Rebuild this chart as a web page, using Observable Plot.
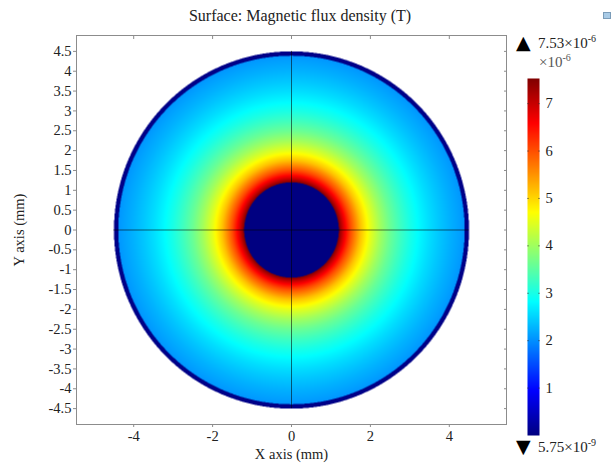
<!DOCTYPE html>
<html><head><meta charset="utf-8">
<script src="https://cdn.jsdelivr.net/npm/d3@7"></script>
<script src="https://cdn.jsdelivr.net/npm/@observablehq/plot@0.6"></script>
<style>
body{margin:0;background:#fff;}
#wrap{position:relative;width:612px;height:468px;overflow:hidden;font-family:"Liberation Serif","Times New Roman",serif;color:#222;}
#main,#cbar,#notes{position:absolute;}
#icon{position:absolute;left:603px;top:12px;width:8px;height:7px;background:#a9cbe6;border:1px solid #7b9cb8;box-sizing:border-box;}
</style></head><body>
<div id="wrap">
  <div id="main" style="left:0;top:0"></div>
  <div id="cbar" style="left:520px;top:70px"></div>
  <svg id="notes" width="612" height="468" style="left:0;top:0;pointer-events:none"></svg>
  <div id="icon"></div>
</div>
<script>
// ---- data (B in units of 1e-6 T, distances in mm) ----
const chartTitle = "Surface: Magnetic flux density (T)";
const xLabel = "X axis (mm)";
const yLabel = "Y axis (mm)";
const xTicks = [-4, -2, 0, 2, 4];
const yTicks = [-4.5, -4, -3.5, -3, -2.5, -2, -1.5, -1, -0.5, 0, 0.5, 1, 1.5, 2, 2.5, 3, 3.5, 4, 4.5];
const colorbarTicks = [1, 2, 3, 4, 5, 6, 7];
const maxLabel = "7.53";
const maxExp = "-6";
const minLabel = "5.75";
const minExp = "-9";
const unitExp = "-6";
const maxValue = 7.53;
const minValue = 0.00575;
// radial profile (annular region between conductor and outer rim)
const profileRadius = [1.2, 1.3, 1.4, 1.5, 1.75, 2.0, 2.25, 2.5, 2.75, 3.0, 3.25, 3.5, 3.75, 4.0, 4.25, 4.4];
const profileFlux   = [7.53, 6.95, 6.45, 6.02, 5.16, 4.52, 4.02, 3.61, 3.29, 3.01, 2.78, 2.58, 2.41, 2.26, 2.13, 2.05];
const innerRadius = 1.2;   // dark inner disk
const rimInner = 4.39;     // dark outer rim
const outerRadius = 4.5;
const rimValue = 0.05;
const xDomain = [-5.45, 5.45];
const yDomain = [-4.9, 4.9];

// jet colour map
const jetStops = [0, 0.125, 0.375, 0.625, 0.875, 1];
const jetColors = ["#000080", "#0000ff", "#00ffff", "#ffff00", "#ff0000", "#800000"];
const colorScale = {type: "linear", domain: jetStops.map(t => t * maxValue), range: jetColors, interpolate: "rgb", clamp: true};

const bis = d3.bisector(d => d).right;
function flux(r) {
  if (r > outerRadius) return NaN;
  if (r >= rimInner) return rimValue;
  if (r < innerRadius) return minValue;
  const i = Math.min(Math.max(bis(profileRadius, r), 1), profileRadius.length - 1);
  const r0 = profileRadius[i - 1], r1 = profileRadius[i];
  const t = (r - r0) / (r1 - r0);
  return profileFlux[i - 1] + t * (profileFlux[i] - profileFlux[i - 1]);
}

const fmt = d => String(d);
const frameGray = "#8c8c8c";
const textColor = "#222";

const main = Plot.plot({
  width: 612, height: 468,
  marginLeft: 76, marginRight: 106, marginTop: 35, marginBottom: 44,
  x: {domain: xDomain},
  y: {domain: yDomain},
  color: colorScale,
  style: {fontFamily: '"Liberation Serif", serif', fontSize: "14px", color: textColor, background: "transparent", overflow: "visible"},
  marks: [
    Plot.raster({fill: (x, y) => flux(Math.hypot(x, y)), x1: xDomain[0], x2: xDomain[1], y1: yDomain[0], y2: yDomain[1], pixelSize: 0.5}),
    Plot.ruleX([0], {y1: -outerRadius, y2: outerRadius, stroke: "#000", strokeOpacity: 0.55}),
    Plot.ruleY([0], {x1: -outerRadius, x2: outerRadius, stroke: "#000", strokeOpacity: 0.55}),
    Plot.frame({stroke: frameGray}),
    Plot.axisX({ticks: xTicks, tickSize: 3, tickPadding: 3, tickFormat: fmt, stroke: frameGray, fill: textColor,
      label: xLabel, labelAnchor: "center", labelArrow: "none", labelOffset: 34, fontSize: 14.5}),
    Plot.axisX({anchor: "top", ticks: xTicks, tickSize: -3, tickFormat: () => "", stroke: frameGray, label: null}),
    Plot.axisY({ticks: yTicks, tickSize: 3, tickPadding: 2, tickFormat: fmt, stroke: frameGray, fill: textColor,
      label: yLabel, labelAnchor: "center", labelArrow: "none", labelOffset: 63, fontSize: 14.5}),
    Plot.axisY({anchor: "right", ticks: yTicks, tickSize: -3, tickFormat: () => "", stroke: frameGray, label: null})
  ]
});
document.getElementById("main").appendChild(main);

const cbar = Plot.plot({
  width: 80, height: 375,
  marginLeft: 7, marginRight: 61, marginTop: 8, marginBottom: 10,
  x: {domain: [0, 1], axis: null},
  y: {domain: [0, maxValue]},
  color: colorScale,
  style: {fontFamily: '"Liberation Serif", serif', fontSize: "14px", color: textColor, background: "transparent", overflow: "visible"},
  marks: [
    Plot.raster({fill: (x, y) => y, x1: 0, x2: 1, y1: 0, y2: maxValue, pixelSize: 0.5}),
    Plot.axisY({anchor: "right", ticks: colorbarTicks, tickSize: -2, tickPadding: 8, tickFormat: fmt, stroke: "#333", strokeOpacity: 0.5, fill: textColor, label: null, fontSize: 14.5}),
    Plot.axisY({anchor: "left", ticks: colorbarTicks, tickSize: -2, tickFormat: () => "", stroke: "#333", strokeOpacity: 0.5, label: null})
  ]
});
document.getElementById("cbar").appendChild(cbar);

// annotations (title, colour-bar range labels)
const notes = d3.select("#notes").style("font-family", '"Liberation Serif", serif').style("fill", textColor);
notes.append("text").attr("x", 300).attr("y", 21).attr("text-anchor", "middle").attr("font-size", 16).text(chartTitle);
function sciLabel(x, y, tri, mant, exp) {
  const g = notes.append("g");
  g.append("text").attr("x", x).attr("y", y + 1).attr("font-size", 19).attr("font-family", "DejaVu Sans").style("fill", "#000").text(tri);
  const t = g.append("text").attr("x", x + 22).attr("y", y).attr("font-size", 15);
  t.append("tspan").text(mant + "\u00d710");
  t.append("tspan").attr("dy", -6).attr("font-size", 10).text(exp);
}
sciLabel(516, 48, "\u25b2", maxLabel, maxExp);
const u = notes.append("text").attr("x", 539).attr("y", 67).attr("font-size", 15).style("fill", "#555");
u.append("tspan").text("\u00d710");
u.append("tspan").attr("dy", -6).attr("font-size", 10).text(unitExp);
sciLabel(516, 452, "\u25bc", minLabel, minExp);
</script>
</body></html>
